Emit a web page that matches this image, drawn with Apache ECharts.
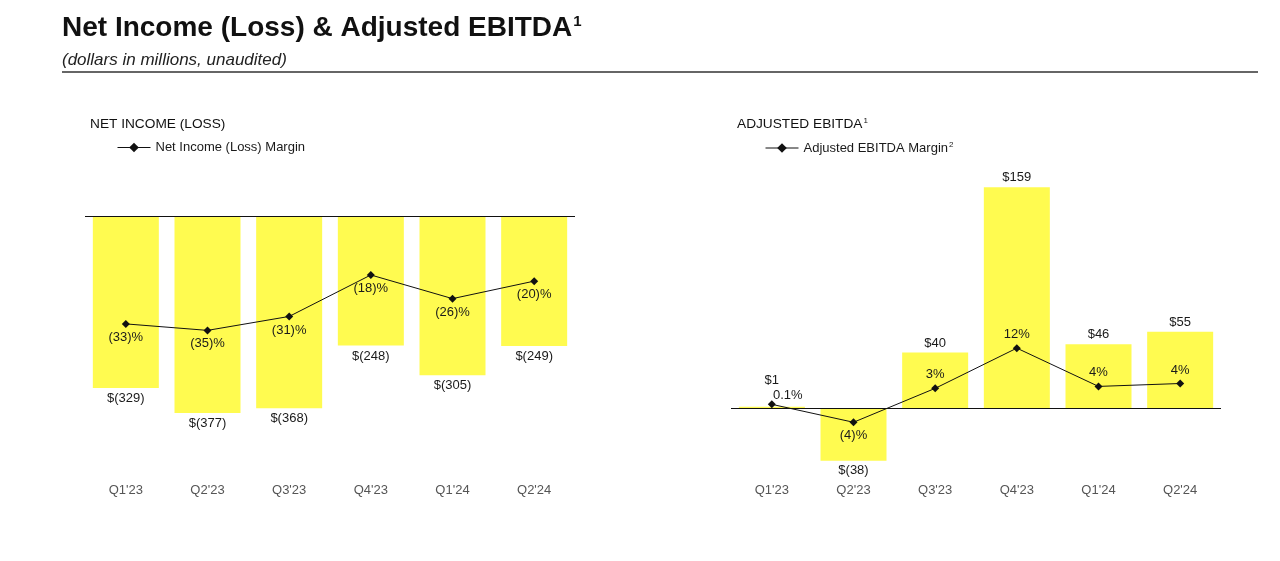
<!DOCTYPE html>
<html>
<head>
<meta charset="utf-8">
<script src="https://cdn.jsdelivr.net/npm/echarts@6/dist/echarts.min.js"></script>
<style>
html,body{margin:0;padding:0;background:#fff;}
#chart{width:1280px;height:561px;}
</style>
</head>
<body>
<div id="chart"></div>
<script>
// ---- data ----
const categories = ["Q1'23", "Q2'23", "Q3'23", "Q4'23", "Q1'24", "Q2'24"];
const netIncome = [-329, -377, -368, -248, -305, -249];
const netIncomeMargin = [-33.3, -35.3, -31.0, -18.2, -25.5, -20.1];
const adjEbitda = [1, -38, 40, 159, 46, 55];
const adjEbitdaMargin = [0.1, -3.6, 3.4, 11.7, 3.8, 4.4];

const FONT = 'Liberation Sans';
const YELLOW = '#FFFB50';
const TXT = '#1a1a1a';

function money(v) { return v < 0 ? '$(' + (-v) + ')' : '$' + v; }
function pct(v) {
  if (v < 0) return '(' + Math.round(-v) + ')%';
  if (Math.abs(v) < 1) return v.toFixed(1) + '%';
  return Math.round(v) + '%';
}

const chart = echarts.init(document.getElementById('chart'), null, {renderer: 'canvas'});

const labelBase = {show: true, color: TXT, fontSize: 13, fontFamily: FONT, distance: 3};

const option = {
  backgroundColor: '#fff',
  animation: false,
  textStyle: {fontFamily: FONT},
  title: [
    {text: 'Net Income (Loss) & Adjusted EBITDA{s|1}', left: 62, top: 14, padding: 0,
     textStyle: {fontSize: 28, fontWeight: 'bold', color: '#111', fontFamily: FONT,
       rich: {s: {fontSize: 15, fontWeight: 'bold', verticalAlign: 'top', color: '#111', fontFamily: FONT, padding: [0,0,12,1]}}}},
    {text: '(dollars in millions, unaudited)', left: 62, top: 52, padding: 0,
     textStyle: {fontSize: 17, fontStyle: 'italic', fontWeight: 'normal', color: '#222', fontFamily: FONT}},
    {text: 'NET INCOME (LOSS)', left: 90, top: 117, padding: 0,
     textStyle: {fontSize: 13.7, fontWeight: 'normal', color: '#111', fontFamily: FONT}},
    {text: 'ADJUSTED EBITDA{s|1}', left: 737, top: 117, padding: 0,
     textStyle: {fontSize: 13.7, fontWeight: 'normal', color: '#111', fontFamily: FONT,
       rich: {s: {fontSize: 8, verticalAlign: 'top', color: '#111', fontFamily: FONT, padding: [0,0,6,1]}}}}
  ],
  graphic: [
    {type: 'line', shape: {x1: 62, y1: 72, x2: 1258, y2: 72}, style: {stroke: '#333', lineWidth: 1.5}, silent: true}
  ],
  legend: [
    {data: ['Net Income (Loss) Margin'], left: 117, top: 141, padding: 0, itemWidth: 33, itemHeight: 12, itemGap: 4,
     lineStyle: {width: 1}, textStyle: {fontSize: 13, color: TXT, fontFamily: FONT}},
    {data: ['Adjusted EBITDA Margin'], left: 765, top: 141, padding: 0, itemWidth: 33, itemHeight: 12, itemGap: 4,
     lineStyle: {width: 1}, formatter: '{a|Adjusted EBITDA Margin}{s|2}',
     textStyle: {fontSize: 13, color: TXT, fontFamily: FONT,
       rich: {a: {fontSize: 13, color: TXT, fontFamily: FONT}, s: {fontSize: 8, color: TXT, verticalAlign: 'top', padding: [0,0,6,1], fontFamily: FONT}}}}
  ],
  grid: [
    {left: 85, width: 490, top: 216, height: 209},
    {left: 731, width: 490, top: 165, height: 312.5}
  ],
  xAxis: [
    {type: 'category', gridIndex: 0, data: categories, position: 'bottom',
     axisLine: {show: false, onZero: false}, axisTick: {show: false},
     axisLabel: {margin: 59, fontSize: 13, color: '#555', fontFamily: FONT}},
    {type: 'category', gridIndex: 1, data: categories, position: 'bottom',
     axisLine: {show: false, onZero: false}, axisTick: {show: false},
     axisLabel: {margin: 6.5, fontSize: 13, color: '#555', fontFamily: FONT}}
  ],
  yAxis: [
    {type: 'value', gridIndex: 0, min: -400, max: 0, show: false, splitLine: {show: false}},
    {type: 'value', gridIndex: 0, min: -64.5, max: 0, show: false, splitLine: {show: false}},
    {type: 'value', gridIndex: 1, min: -50, max: 175, show: false, splitLine: {show: false}},
    {type: 'value', gridIndex: 1, min: -15, max: 49.5, show: false, splitLine: {show: false}}
  ],
  series: [
    {name: 'Net Income (Loss)', type: 'bar', xAxisIndex: 0, yAxisIndex: 0, data: netIncome,
     barWidth: 66, itemStyle: {color: YELLOW},
     label: Object.assign({}, labelBase, {position: 'bottom', distance: 4, formatter: p => money(p.value)}),
     markLine: {silent: true, symbol: 'none', label: {show: false}, lineStyle: {color: '#111', width: 1, type: 'solid'},
       data: [{yAxis: 0}]}},
    {name: 'Net Income (Loss) Margin', type: 'line', xAxisIndex: 0, yAxisIndex: 1, data: netIncomeMargin,
     symbol: 'diamond', symbolSize: 8, lineStyle: {color: '#111', width: 1}, itemStyle: {color: '#111'},
     label: Object.assign({}, labelBase, {position: 'bottom', formatter: p => pct(p.value)}), z: 5},
    {name: 'Adjusted EBITDA', type: 'bar', xAxisIndex: 1, yAxisIndex: 2,
     data: adjEbitda.map((v, i) => {
       if (i === 0) return {value: v, label: {offset: [0, -17]}};
       if (v < 0) return {value: v, label: {position: 'bottom'}};
       return v;
     }),
     barWidth: 66, itemStyle: {color: YELLOW},
     label: Object.assign({}, labelBase, {position: 'top', formatter: p => money(p.value)}),
     markLine: {silent: true, symbol: 'none', label: {show: false}, lineStyle: {color: '#111', width: 1, type: 'solid'},
       data: [{yAxis: 0}]}},
    {name: 'Adjusted EBITDA Margin', type: 'line', xAxisIndex: 1, yAxisIndex: 3,
     data: adjEbitdaMargin.map((v, i) => {
       if (i === 0) return {value: v, label: {position: 'top', offset: [16, 5]}};
       if (v < 0) return {value: v, label: {position: 'bottom'}};
       return v;
     }),
     symbol: 'diamond', symbolSize: 8, lineStyle: {color: '#111', width: 1}, itemStyle: {color: '#111'},
     label: Object.assign({}, labelBase, {position: 'top', formatter: p => pct(p.value)}), z: 5}
  ]
};
chart.setOption(option);
</script>
</body>
</html>
